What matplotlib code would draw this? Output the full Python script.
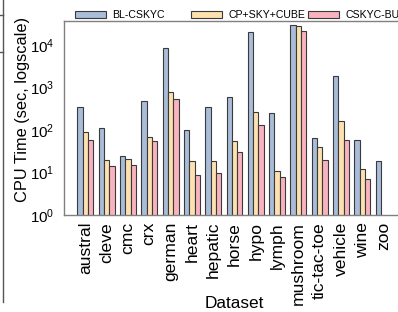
import numpy as np
import matplotlib
matplotlib.use('Agg')
import matplotlib.pyplot as plt
from matplotlib.lines import Line2D

plt.rcParams['font.family'] = ['Liberation Sans', 'DejaVu Sans']

# data (seconds, log scale)
datasets = ['austral', 'cleve', 'cmc', 'crx', 'german', 'heart', 'hepatic', 'horse',
            'hypo', 'lymph', 'mushroom', 'tic-tac-toe', 'vehicle', 'wine', 'zoo']
bl_cskyc = [342, 110, 25, 480, 8500, 98, 342, 600, 20600, 256, 29500, 66, 1900, 57, 18.3]
cp_sky_cube = [88, 20, 20.4, 67, 784, 18.3, 18.3, 54, 261, 10.6, 28000, 39, 163, 12.3, np.nan]
cskyc_buc = [57, 14, 15, 55, 536, 8.6, 9.6, 31, 133, 7.7, 21400, 20, 59, 6.9, np.nan]

series = [('BL-CSKYC', bl_cskyc, '#a9bcd8'),
          ('CP+SKY+CUBE', cp_sky_cube, '#fde2af'),
          ('CSKYC-BUC', cskyc_buc, '#f9b3bf')]

W, H = 398, 312
fig = plt.figure(figsize=(W / 100, H / 100), dpi=100)
# axes run past the right edge of the picture, as in the reference
ax = fig.add_axes([64 / W, 1 - 215 / H, 341 / W, 194 / H])

x = np.arange(len(datasets))
width = 0.25
handles = []
for i, (name, vals, col) in enumerate(series):
    b = ax.bar(x + (i - 1) * width, vals, width, color=col, edgecolor='#3a3a3a',
               linewidth=0.8, label=name)
    handles.append(b)

ax.set_yscale('log')
ax.set_ylim(1, 3.7e4)
ax.set_xlim(-1, len(datasets))
ax.set_xticks(x)
ax.set_xticklabels(datasets, rotation=90, fontsize=12.6)
ax.set_yticks([1, 10, 100, 1000, 10000])
ax.yaxis.set_minor_locator(matplotlib.ticker.NullLocator())
ax.tick_params(axis='both', length=0)
ax.tick_params(axis='y', labelsize=10.8, pad=7)
ax.tick_params(axis='x', pad=5)

for s in ax.spines.values():
    s.set_color('#808080')
    s.set_linewidth(1.0)

ax.set_xlabel('Dataset', fontsize=12.4)
ax.xaxis.set_label_coords(0.5, -0.42)
ax.set_ylabel('CPU Time (sec, logscale)', fontsize=11.8)
ax.yaxis.set_label_coords(-0.1, 0.546)

# legend entries sit at evenly spaced slots above the axes
for h, (name, _, _), left in zip(handles, series, (70, 186, 303)):
    fig.legend(handles=[h], labels=[name], loc='center left',
               bbox_to_anchor=(left / W, 1 - 15 / H), frameon=False, fontsize=7.6,
               borderpad=0, handlelength=2.9, handleheight=0.65, handletextpad=0.58)

# remnant of a neighbouring panel on the left edge
fig.add_artist(Line2D([3 / W, 3 / W], [1, 1 - 302 / H], color='#555555', lw=1.0))
for yy in (15, 52):
    fig.add_artist(Line2D([0, 3 / W], [1 - yy / H, 1 - yy / H], color='#555555', lw=1.0))

fig.savefig('out.png', dpi=100)
